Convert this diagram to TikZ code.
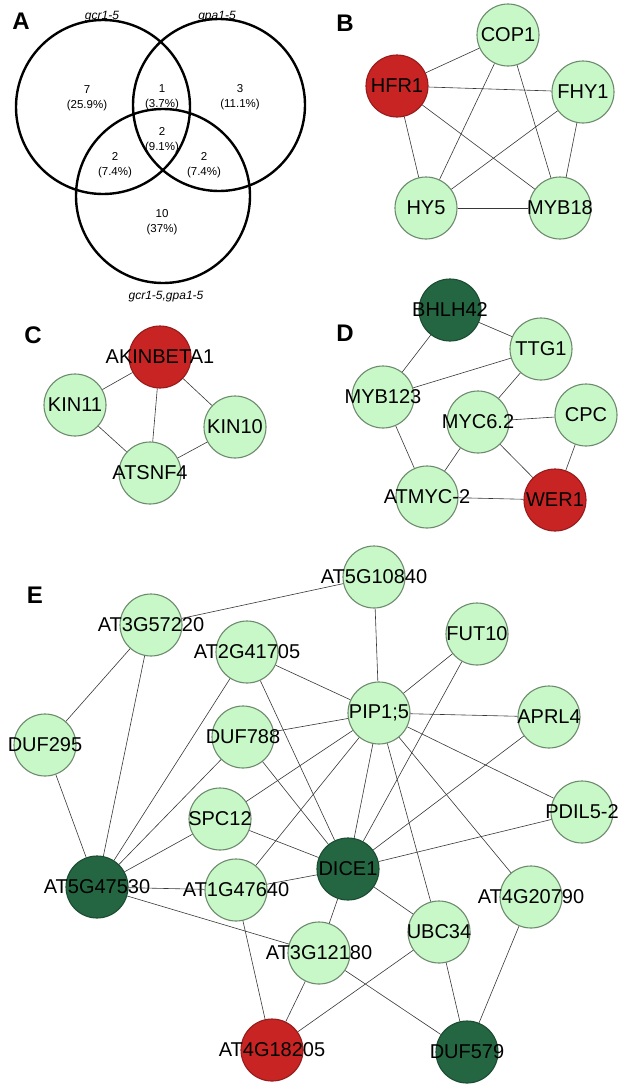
\documentclass[tikz,border=0pt]{standalone}
\usepackage{fontspec}
\setmainfont{Liberation Sans}
\usetikzlibrary{positioning}
\definecolor{lightgene}{RGB}{200,248,200}
\definecolor{generim}{RGB}{110,138,110}
\definecolor{upred}{RGB}{200,36,36}
\definecolor{downgreen}{RGB}{36,102,66}
\definecolor{linkgray}{RGB}{55,55,55}
% label wider than its circle
\newcommand{\gl}[1]{\makebox[0pt]{#1}}

\begin{document}
\begin{tikzpicture}[x=1pt,y=-1pt,
  gene/.style={circle, draw=generim, line width=1.1pt, fill=lightgene,
    minimum size=62pt, inner sep=0pt, font=\fontsize{20}{24}\selectfont},
  upgene/.style={gene, fill=upred, draw=upred!75!black},
  downgene/.style={gene, fill=downgreen, draw=downgreen!75!black},
  link/.style={draw=linkgray, line width=0.6pt},
  panel/.style={font=\fontsize{24}{28}\selectfont\bfseries},
  venn/.style={line width=2.4pt},
  count/.style={align=center, font=\fontsize{11.5}{15.5}\selectfont},
  strain/.style={font=\fontsize{12}{14}\selectfont\itshape}]
  \useasboundingbox (0,0) rectangle (623,1084);

  % A: venn
  \node[panel] (A) at (21,21) {A};
  \draw[venn] (103,107) circle (87pt);
  \draw[venn] (219,105) circle (86pt);
  \draw[venn] (163,196) circle (87pt);
  \node[strain] (gcr)    at (102,17)  {gcr1-5};
  \node[strain] (gpa)    at (217,17)  {gpa1-5};
  \node[strain] (gcrgpa) at (166,297) {gcr1-5,gpa1-5};
  \node[count] (only1)  at (87,98)   {7\\(25.9\%)};
  \node[count] (c12)    at (162,97)  {1\\(3.7\%)};
  \node[count] (only2)  at (240,97)  {3\\(11.1\%)};
  \node[count] (c123)   at (162,140) {2\\(9.1\%)};
  \node[count] (c13)    at (115,165) {2\\(7.4\%)};
  \node[count] (c23)    at (204,165) {2\\(7.4\%)};
  \node[count] (only3)  at (162,222) {10\\(37\%)};

  % B
  \node[panel] (B) at (345,23) {B};
  \node[gene]   (COP1)  at (508,35)  {\gl{COP1}};
  \node[upgene] (HFR1)  at (397,86)  {\gl{HFR1}};
  \node[gene]   (FHY1)  at (583,92)  {\gl{FHY1}};
  \node[gene]   (HY5)   at (426,208) {\gl{HY5}};
  \node[gene]   (MYB18) at (560,208) {\gl{MYB18}};
  \draw[link] (HFR1) edge (COP1) edge (FHY1) edge (HY5) edge (MYB18);
  \draw[link] (COP1) edge (HY5) edge (MYB18);
  \draw[link] (FHY1) edge (HY5) edge (MYB18);
  \draw[link] (HY5) edge (MYB18);

  % C
  \node[panel] (C) at (33,335) {C};
  \node[upgene] (AKIN)   at (160,357) {\gl{AKINBETA1}};
  \node[gene]   (KIN11)  at (75,405)  {\gl{KIN11}};
  \node[gene]   (KIN10)  at (235,427) {\gl{KIN10}};
  \node[gene]   (ATSNF4) at (150,473) {\gl{ATSNF4}};
  \draw[link] (AKIN) edge (KIN11) edge (KIN10) edge (ATSNF4);
  \draw[link] (ATSNF4) edge (KIN11) edge (KIN10);

  % D
  \node[panel] (D) at (345,333) {D};
  \node[downgene] (BHLH42) at (450,310) {\gl{BHLH42}};
  \node[gene]     (TTG1)   at (541,349) {\gl{TTG1}};
  \node[gene]     (MYB123) at (383,397) {\gl{MYB123}};
  \node[gene]     (MYC62)  at (478,422) {\gl{MYC6.2}};
  \node[gene]     (CPC)    at (586,415) {\gl{CPC}};
  \node[gene]     (ATMYC2) at (427,497) {\gl{ATMYC-2}};
  \node[upgene]   (WER1)   at (555,500) {\gl{WER1}};
  \draw[link] (BHLH42) edge (TTG1) edge (MYB123);
  \draw[link] (TTG1) edge (MYB123) edge (MYC62);
  \draw[link] (MYC62) edge (CPC) edge (ATMYC2) edge (WER1);
  \draw[link] (ATMYC2) edge (MYB123) edge (WER1);
  \draw[link] (CPC) edge (WER1);

  % E
  \node[panel] (E) at (35,595) {E};
  \node[gene]     (AT3G57220) at (151,625)  {\gl{AT3G57220}};
  \node[gene]     (AT5G10840) at (374,577)  {\gl{AT5G10840}};
  \node[gene]     (AT2G41705) at (247,652)  {\gl{AT2G41705}};
  \node[gene]     (FUT10)     at (477,634)  {\gl{FUT10}};
  \node[gene]     (DUF295)    at (45,745)   {\gl{DUF295}};
  \node[gene]     (DUF788)    at (243,737)  {\gl{DUF788}};
  \node[gene]     (PIP)       at (379,713)  {\gl{PIP1;5}};
  \node[gene]     (APRL4)     at (549,717)  {\gl{APRL4}};
  \node[gene]     (PDIL)      at (582,812)  {\gl{PDIL5-2}};
  \node[gene]     (SPC12)     at (220,819)  {\gl{SPC12}};
  \node[downgene] (DICE1)     at (348,869)  {\gl{DICE1}};
  \node[downgene] (AT5G47530) at (97,887)   {\gl{AT5G47530}};
  \node[gene]     (AT1G47640) at (236,890)  {\gl{AT1G47640}};
  \node[gene]     (AT4G20790) at (531,897)  {\gl{AT4G20790}};
  \node[gene]     (UBC34)     at (439,932)  {\gl{UBC34}};
  \node[gene]     (AT3G12180) at (319,953)  {\gl{AT3G12180}};
  \node[upgene]   (AT4G18205) at (272,1050) {\gl{AT4G18205}};
  \node[downgene] (DUF579)    at (467,1052) {\gl{DUF579}};

  \draw[link] (AT3G57220) edge (AT5G10840) edge (DUF295) edge (AT5G47530);
  \draw[link] (DUF295) edge (AT5G47530);
  \draw[link] (AT2G41705) edge (PIP) edge (AT5G47530) edge (DICE1);
  \draw[link] (DUF788) edge (PIP) edge (AT5G47530) edge (DICE1);
  \draw[link] (SPC12) edge (PIP) edge (AT5G47530) edge (DICE1);
  \draw[link] (AT1G47640) edge (PIP) edge (AT5G47530) edge (DICE1) edge (AT4G18205);
  \draw[link] (AT5G47530) edge (AT3G12180);
  \draw[link] (PIP) edge (AT5G10840) edge (FUT10) edge (APRL4) edge (PDIL)
    edge (DICE1) edge (UBC34) edge (AT4G20790);
  \draw[link] (DICE1) edge (FUT10) edge (APRL4) edge (PDIL)
    edge (AT3G12180) edge (UBC34);
  \draw[link] (UBC34) edge (DUF579) edge (AT4G18205);
  \draw[link] (AT3G12180) edge (AT4G18205) edge (DUF579);
  \draw[link] (AT4G20790) edge (DUF579);
\end{tikzpicture}
\end{document}
